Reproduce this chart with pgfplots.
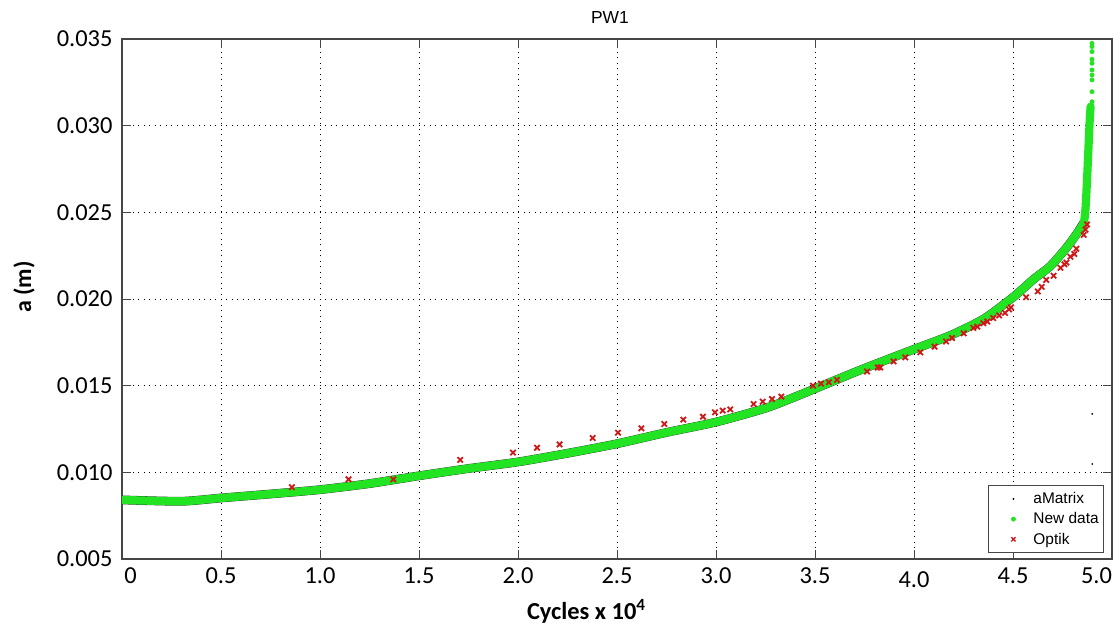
\documentclass[border=0pt]{standalone}
\usepackage{fontspec}
\setmainfont{Carlito}
\newfontfamily\arial{Liberation Sans}
\usepackage{pgfplots}
\pgfplotsset{compat=1.18}
\definecolor{newgreen}{RGB}{34,228,34}
\definecolor{optred}{RGB}{205,25,25}
\definecolor{frame}{RGB}{70,70,70}
\begin{document}
\begin{tikzpicture}
\begin{axis}[scale only axis, width=990bp, height=520bp,
  xmin=0, xmax=5, ymin=0.005, ymax=0.035,
  xtick={0,0.5,1,1.5,2,2.5,3,3.5,4,4.5,5},
  xticklabels={\hspace{17bp}0, 0.5, 1.0, 1.5, 2.0, 2.5, 3.0, 3.5,
    \raisebox{-4bp}[\height][0pt]{4.0}, 4.5, \makebox[0pt][r]{5.0}},
  ytick={0.005,0.010,0.015,0.020,0.025,0.030,0.035},
  scaled y ticks=false,
  yticklabel style={/pgf/number format/fixed, /pgf/number format/fixed zerofill,
    /pgf/number format/precision=3, xshift=-6bp},
  /pgf/number format/assume math mode=true,
  tick label style={font=\fontsize{24.5}{27}\selectfont},
  xticklabel style={yshift=-5bp},
  tick align=inside, major tick length=9bp,
  tick style={frame, line width=0.8bp},
  grid=major, grid style={black, line width=0.9bp, dash pattern=on 1bp off 4.5bp},
  axis line style={frame, line width=1.1bp},
  xlabel={\textbf{Cycles x 10\textsuperscript{4}}},
  xlabel style={font=\fontsize{24.5}{26}\selectfont,
    at={(axis description cs:0.469,-0.117)}, anchor=base},
  ylabel={\textbf{a (m)}},
  ylabel style={font=\fontsize{24}{26}\selectfont,
    at={(axis description cs:-0.099,0.523)}, anchor=center},
  legend style={font=\arial\fontsize{15.5}{18}\selectfont, draw=frame,
    line width=0.8bp, at={(rel axis cs:0.992,0.0115)}, anchor=south east,
    inner xsep=3bp, inner ysep=5bp, row sep=3.5bp},
  legend image code/.code={\path[draw=none] (0bp,0bp) -- (40bp,0bp);
    \draw[#1] plot[only marks] coordinates {(22bp,0bp)};},
  legend cell align=left]
\addlegendimage{mark=*, mark size=0.5bp, black}
\addlegendentry{aMatrix}
\addlegendimage{mark=*, mark size=2bp, newgreen}
\addlegendentry{New data}
\addlegendimage{mark=x, mark size=3bp, line width=1.4bp, optred}
\addlegendentry{Optik}
% aMatrix band (mostly hidden under the new data)
\addplot[black!80, line width=8.8bp, smooth, tension=0.4, line join=round,
  line cap=round, forget plot]
  coordinates {(0,0.00841) (0.3,0.00833) (0.5,0.00852) (0.75,0.00875)
  (1.0,0.0090) (1.25,0.00935) (1.5,0.0098) (1.75,0.01022) (2.0,0.0106)
  (2.25,0.0111) (2.5,0.01165) (2.75,0.0123) (3.0,0.0129) (3.25,0.0137)
  (3.42,0.01445) (3.6,0.0153) (3.75,0.0160) (4.0,0.0171) (4.184,0.0179)
  (4.352,0.01885) (4.5,0.0201) (4.605,0.02115) (4.689,0.0219)
  (4.773,0.0230) (4.824,0.0238) (4.857,0.0244)};
\addplot[only marks, mark=*, mark size=0.6bp, black, forget plot]
  coordinates {(4.90,0.01337) (4.90,0.01048)};
% new data
\addplot[newgreen, line width=8.2bp, smooth, tension=0.4, line join=round,
  line cap=round, forget plot]
  coordinates {(0,0.00841) (0.3,0.00833) (0.5,0.00852) (0.75,0.00875)
  (1.0,0.0090) (1.25,0.00935) (1.5,0.0098) (1.75,0.01022) (2.0,0.0106)
  (2.25,0.0111) (2.5,0.01165) (2.75,0.0123) (3.0,0.0129) (3.25,0.0137)
  (3.42,0.01445) (3.6,0.0153) (3.75,0.0160) (4.0,0.0171) (4.184,0.0179)
  (4.352,0.01885) (4.5,0.0201) (4.605,0.02115) (4.689,0.0219)
  (4.773,0.0230) (4.824,0.0238) (4.857,0.0244) (4.866,0.0252)
  (4.874,0.0269) (4.887,0.0302) (4.892,0.0311)};
\addplot[only marks, mark=*, mark size=2.2bp, newgreen, forget plot]
  coordinates {(4.899,0.03138) (4.899,0.03196) (4.899,0.03264)
  (4.899,0.03292) (4.899,0.03321) (4.899,0.0336) (4.899,0.03383)
  (4.899,0.03427) (4.899,0.03456) (4.899,0.03475)};
% optik
\addplot[only marks, mark=x, mark size=3.8bp, line width=1.8bp, optred, forget plot]
  coordinates {(0.858,0.00914) (1.144,0.0096) (1.37,0.0096) (1.708,0.01072)
  (1.975,0.01114) (2.096,0.01142) (2.210,0.01161) (2.377,0.01198)
  (2.505,0.01229) (2.623,0.01254) (2.739,0.01279) (2.835,0.01304)
  (2.934,0.01321) (2.995,0.01346) (3.034,0.01356) (3.072,0.01363)
  (3.190,0.01394) (3.236,0.01408) (3.283,0.01423) (3.330,0.01437)
  (3.49,0.0150) (3.53,0.01512) (3.57,0.0152) (3.611,0.01533)
  (3.763,0.01582) (3.817,0.01605) (3.83,0.01605) (3.897,0.0164)
  (3.956,0.01663) (4.032,0.01692) (4.104,0.01725) (4.162,0.01755)
  (4.192,0.01775) (4.251,0.01802) (4.30,0.01833) (4.32,0.0184)
  (4.35,0.0186) (4.37,0.0187) (4.40,0.0189) (4.43,0.01905) (4.46,0.0192)
  (4.48,0.0194) (4.49,0.01952) (4.566,0.0201) (4.625,0.02044)
  (4.645,0.0207) (4.668,0.0211) (4.705,0.02134) (4.74,0.0218)
  (4.76,0.0220) (4.77,0.0221) (4.79,0.02244) (4.81,0.0226) (4.82,0.0229)
  (4.857,0.0237) (4.866,0.0240) (4.874,0.0243)};
\end{axis}
% title, set by hand above the axis box (which spans 990bp x 520bp)
\node[font=\arial\fontsize{17.5}{20}\selectfont, anchor=base]
  at (488bp,535bp) {PW1};
\pgfresetboundingbox
\path (-122bp,-72bp) rectangle (994bp,559bp);
\end{tikzpicture}
\end{document}
